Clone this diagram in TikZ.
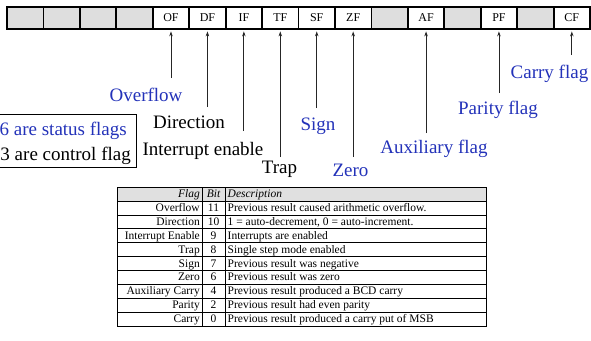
\documentclass[tikz,border=0pt]{standalone}
\usepackage{fontspec}
\setmainfont{Liberation Serif}
\usetikzlibrary{arrows.meta}
\definecolor{lblue}{RGB}{35,50,185}
\definecolor{cellgray}{RGB}{222,222,222}
\definecolor{hdrgray}{RGB}{224,224,224}
\tikzset{
  cell/.style={draw=black,line width=1.8pt,minimum width=36.44pt,minimum height=22pt,inner sep=0pt,font=\fontsize{12}{12}\selectfont},
  grayc/.style={cell,fill=cellgray},
  whitec/.style={cell,fill=white},
  pointer/.style={draw=black!85,line width=0.8pt,-{Stealth[length=5pt,width=3.5pt]}},
  lbl/.style={anchor=base,inner sep=0pt,font=\fontsize{19}{19}\selectfont},
  bluel/.style={lbl,text=lblue},
  tbl/.style={inner sep=0pt,anchor=base,font=\fontsize{11.5}{11.5}\selectfont},
  tline/.style={draw=black,line width=0.6pt}
}
\begin{document}
\begin{tikzpicture}[x=1pt,y=-1pt]
\useasboundingbox (0,0) rectangle (591,340);
% register
\foreach \i/\t/\s in {0//grayc,1//grayc,2//grayc,3//grayc,4/OF/whitec,5/DF/whitec,6/IF/whitec,7/TF/whitec,8/SF/whitec,9/ZF/whitec,10//grayc,11/AF/whitec,12//grayc,13/PF/whitec,14//grayc,15/CF/whitec}{
  \node[\s] (c\i) at ({7+36.44*(\i+0.5)},18) {\t};
}
% pointer free ends
\coordinate (e4) at (c4.center |- 0,78);
\coordinate (e5) at (c5.center |- 0,107);
\coordinate (e6) at (c6.center |- 0,131);
\coordinate (e7) at (c7.center |- 0,157);
\coordinate (e8) at (c8.center |- 0,108);
\coordinate (e9) at (c9.center |- 0,157);
\coordinate (e11) at (c11.center |- 0,133);
\coordinate (e13) at (c13.center |- 0,93);
\coordinate (e15) at (c15.center |- 0,55);
\foreach \i in {4,5,6,7,8,9,11,13,15}{
  \draw[pointer] (e\i) -- ([yshift=-1.5pt]c\i.south);
}
% labels
\node[bluel] (lOF) at (146,101) {Overflow};
\node[lbl] (lDF) at (189,128) {Direction};
\node[lbl] (lIF) at (203,155.5) {Interrupt enable};
\node[lbl] (lTF) at (279.5,173) {Trap};
\node[bluel] (lSF) at (318,130) {Sign};
\node[bluel] (lZF) at (350.5,176.5) {Zero};
\node[bluel] (lAF) at (434,153) {Auxiliary flag};
\node[bluel] (lPF) at (498,114) {Parity flag};
\node[bluel] (lCF) at (549.5,78) {Carry flag};
% left box
\draw[line width=0.8pt] (-2,114) rectangle (136,167);
\node[lbl,text=lblue,anchor=base east] (b1) at (127,135) {6 are status flags};
\node[lbl,anchor=base east] (b2) at (131,160) {3 are control flag};
% table
\fill[hdrgray] (117,187) rectangle (486,201);
\draw[tline] (117,187) rectangle (486,326);
\draw[tline] (202,187) -- (202,326);
\draw[tline] (225,187) -- (225,326);
\foreach \k in {0,...,8}{
  \draw[tline] (117,{201+13.89*\k}) -- (486,{201+13.89*\k});
}
\node[tbl,anchor=base east,font=\fontsize{11.5}{11.5}\selectfont\itshape] (hF) at (200,197.5) {Flag};
\node[tbl,font=\fontsize{11.5}{11.5}\selectfont\itshape] (hB) at (213.5,197.5) {Bit};
\node[tbl,anchor=base west,font=\fontsize{11.5}{11.5}\selectfont\itshape] (hD) at (227.5,197.5) {Description};
\foreach \k/\f/\b/\d in {0/Overflow/11/Previous result caused arithmetic overflow.,
  1/Direction/10/{1 = auto-decrement, 0 = auto-increment.},
  2/Interrupt Enable/9/Interrupts are enabled,
  3/Trap/8/Single step mode enabled,
  4/Sign/7/Previous result was negative,
  5/Zero/6/Previous result was zero,
  6/Auxiliary Carry/4/Previous result produced a BCD carry,
  7/Parity/2/Previous result had even parity,
  8/Carry/0/Previous result produced a carry put of MSB}{
  \node[tbl,anchor=base east] (f\k) at (200,{211.5+13.89*\k}) {\f};
  \node[tbl] (b\k) at (213.5,{211.5+13.89*\k}) {\b};
  \node[tbl,anchor=base west] (d\k) at (227.5,{211.5+13.89*\k}) {\d};
}
\end{tikzpicture}
\end{document}
